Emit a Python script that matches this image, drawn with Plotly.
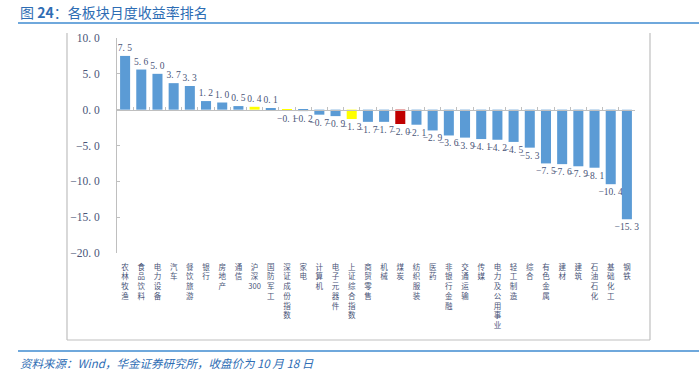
import plotly.graph_objects as go

# ---------------- data ----------------
categories = ["农林牧渔", "食品饮料", "电力设备", "汽车", "餐饮旅游", "银行", "房地产", "通信",
              "沪深300", "国防军工", "深证成份指数", "家电", "计算机", "电子元器件", "上证综合指数",
              "商贸零售", "机械", "煤炭", "纺织服装", "医药", "非银行金融", "交通运输", "传媒",
              "电力及公用事业", "轻工制造", "综合", "有色金属", "建材", "建筑", "石油石化",
              "基础化工", "钢铁"]
returns = [7.5, 5.6, 5.0, 3.7, 3.3, 1.2, 1.0, 0.5, 0.4, 0.1, -0.1, -0.2, -0.7, -0.9, -1.3,
           -1.7, -1.7, -2.0, -2.1, -2.9, -3.6, -3.9, -4.1, -4.2, -4.5, -5.3, -7.5, -7.6, -7.9,
           -8.1, -10.4, -15.3]
y_ticks = [10, 5, 0, -5, -10, -15, -20]
index_names = ["沪深300", "深证成份指数", "上证综合指数"]
focus_names = ["煤炭"]

# ---------------- style ----------------
W, H = 699, 376
L, R, T, B = 117, 635, 38, 253          # plot area in px
BLUE, YELLOW, RED = "#5B9BD5", "#FFFF00", "#C00000"
GRID = "#BFBFBF"
TXT = "#4A5578"
TITLE_C = "#2E6DB4"
LINE_C = "#6FA8DC"


def colour(name):
    if name in index_names:
        return YELLOW
    if name in focus_names:
        return RED
    return BLUE


def fmt(v):
    return f"{v:.1f}".replace(".", ". ").replace("-", "−")


def vert(name):
    if name.endswith("300"):
        return "<br>".join(list(name[:-3])) + "<br>300"
    return "<br>".join(list(name))


def px_x(p):
    return (p - L) / (R - L)


def px_y(p):
    return (B - p) / (B - T)


fig = go.Figure()
fig.add_trace(go.Bar(
    x=categories, y=returns,
    marker=dict(color=[colour(c) for c in categories], line=dict(width=0)),
    text=[fmt(v) for v in returns], textposition="outside",
    textfont=dict(family="Liberation Serif", size=9.5, color=TXT),
    constraintext="none", cliponaxis=False, hoverinfo="x+y",
))
# invisible helper trace that carries the zero-line axis with category ticks
fig.add_trace(go.Scatter(
    x=categories, y=returns, xaxis="x2", mode="markers",
    marker=dict(opacity=0), hoverinfo="skip", showlegend=False,
))

ymin, ymax = min(y_ticks), max(y_ticks)
zero_pos = (0 - ymin) / (ymax - ymin)

fig.update_layout(
    width=W, height=H,
    margin=dict(l=L, r=W - R, t=T, b=H - B),
    paper_bgcolor="white", plot_bgcolor="white",
    showlegend=False, bargap=0.38,
    font=dict(family="Noto Sans CJK SC", color=TXT),
    xaxis=dict(
        type="category", categoryorder="array", categoryarray=categories,
        range=[-0.5, len(categories) - 0.5],
        tickvals=categories, ticktext=[vert(c) for c in categories],
        tickangle=0, tickfont=dict(family="Noto Sans CJK SC", size=7.5, color=TXT),
        showline=False, showgrid=False, zeroline=False, ticks="",
        ticklabelstandoff=8,
    ),
    xaxis2=dict(
        type="category", categoryorder="array", categoryarray=categories,
        range=[-0.5, len(categories) - 0.5],
        overlaying="x", anchor="free", position=zero_pos,
        showline=True, linecolor=GRID, linewidth=1,
        ticks="inside", tickson="boundaries", ticklen=3, tickcolor=GRID, tickwidth=1,
        showticklabels=False, showgrid=False, zeroline=False,
    ),
    yaxis=dict(
        range=[ymin, ymax], tickvals=y_ticks, ticktext=[fmt(v) for v in y_ticks],
        tickfont=dict(family="Liberation Serif", size=11.5, color=TXT),
        showline=True, linecolor=GRID, linewidth=1,
        ticks="inside", ticklen=3, tickcolor=GRID,
        showgrid=False, zeroline=False, ticklabelstandoff=14,
    ),
)

# frame (left, right, bottom)
frame = dict(type="line", xref="paper", yref="paper", line=dict(color=GRID, width=1.2))
fig.add_shape(**frame, x0=px_x(67), x1=px_x(67), y0=px_y(33), y1=px_y(340))
fig.add_shape(**frame, x0=px_x(650), x1=px_x(650), y0=px_y(33), y1=px_y(340))
fig.add_shape(**frame, x0=px_x(67), x1=px_x(650), y0=px_y(340), y1=px_y(340))
# blue header / footer rules
rule = dict(type="line", xref="paper", yref="paper", line=dict(color=LINE_C, width=2))
fig.add_shape(**rule, x0=px_x(18), x1=px_x(699), y0=px_y(23), y1=px_y(23))
fig.add_shape(**rule, x0=px_x(18), x1=px_x(699), y0=px_y(351), y1=px_y(351))

fig.add_annotation(
    text="图 <b>24</b>：各板块月度收益率排名", xref="paper", yref="paper",
    x=px_x(18), y=px_y(12), xanchor="left", yanchor="middle", align="left",
    showarrow=False, font=dict(family="Noto Sans CJK SC", size=14, color=TITLE_C),
)
fig.add_annotation(
    text="<i>资料来源：Wind，华金证券研究所，收盘价为 10 月 18 日</i>", xref="paper", yref="paper",
    x=px_x(18), y=px_y(363), xanchor="left", yanchor="middle", align="left",
    showarrow=False, font=dict(family="Noto Sans CJK SC", size=11.5, color=TITLE_C),
)

fig.write_html(
    "out.html",
    config={"displayModeBar": False},
    post_script="document.body.style.margin='0';document.body.style.overflow='hidden';",
)
